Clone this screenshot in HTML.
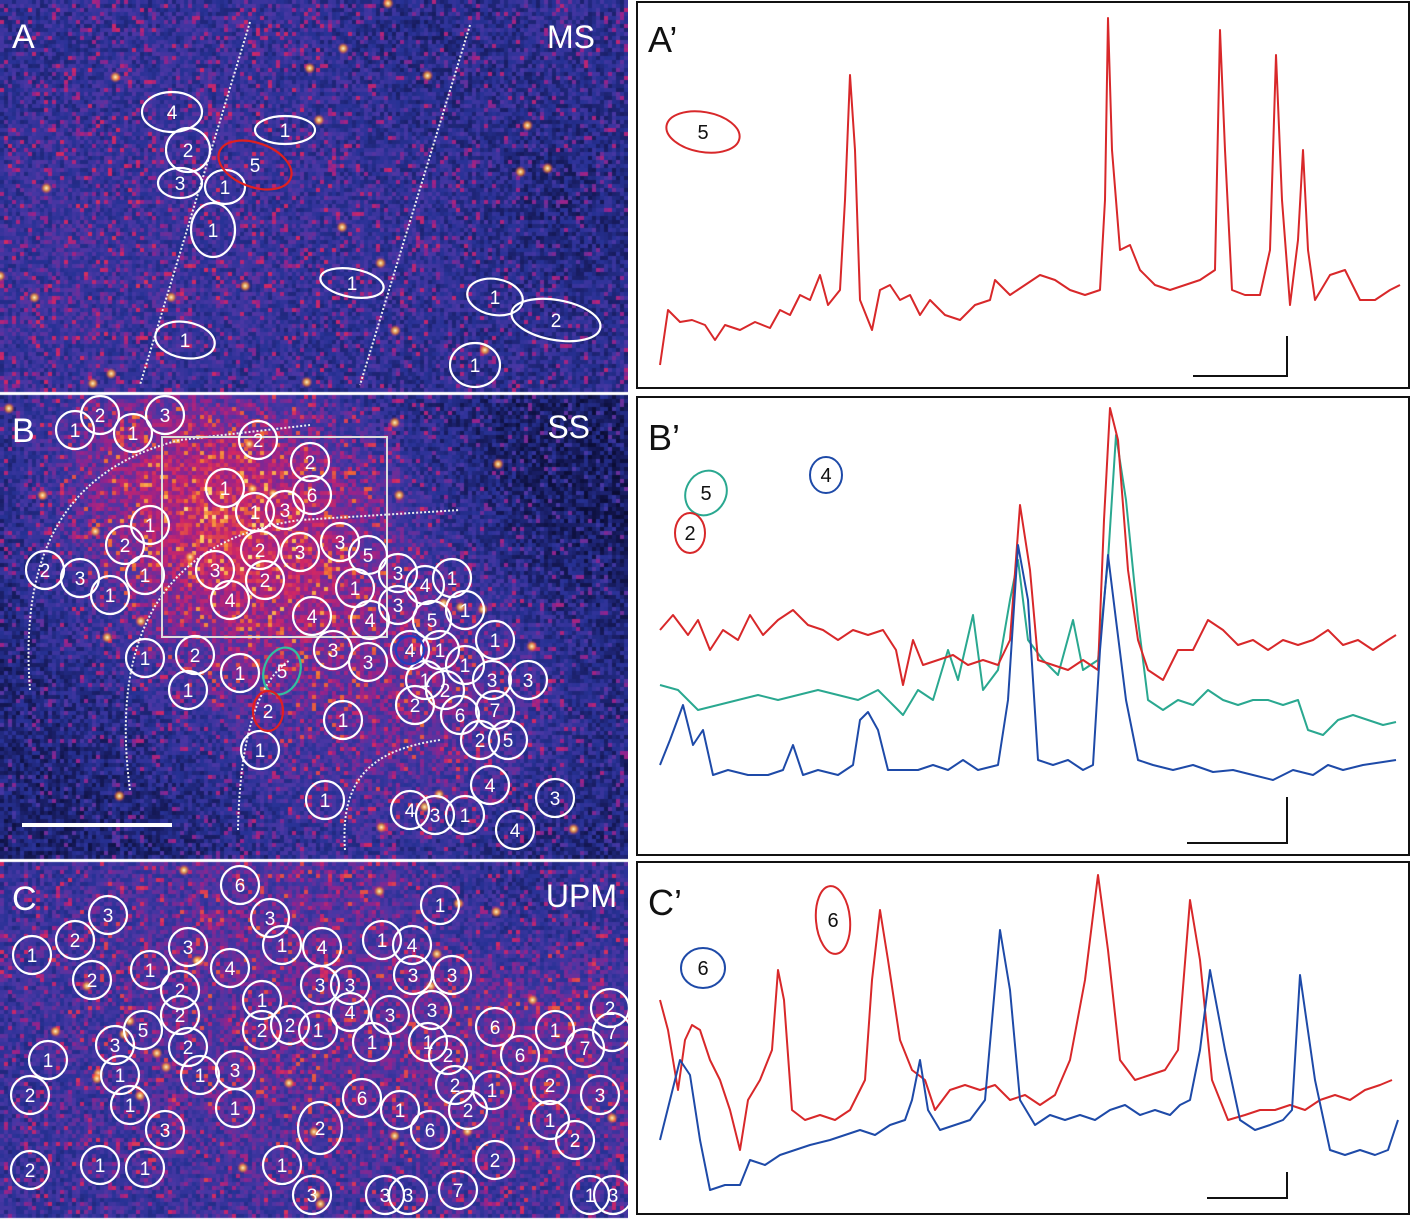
<!DOCTYPE html>
<html><head><meta charset="utf-8">
<style>
html,body{margin:0;padding:0;background:#fff;}
body{width:1416px;height:1221px;position:relative;overflow:hidden;font-family:"Liberation Sans",sans-serif;}
canvas{position:absolute;left:0;top:0;}
svg{position:absolute;left:0;top:0;}
</style></head>
<body>
<canvas id="tex" width="628" height="1221"></canvas>
<svg id="fig" width="1416" height="1221"></svg>
<script>
// ---- Trace data (time in frames, signal in arbitrary units) ----
const aTime=[0,8,20,32,45,55,65,80,95,110,120,130,140,150,160,168,180,185,190,195,200,212,220,230,240,250,260,270,285,300,315,330,335,350,365,380,395,410,425,440,445,448,452,460,470,480,495,510,525,540,555,560,565,572,585,600,610,616,622,630,638,643,648,655,670,685,700,715,730,740];
const aVal=[5,60,48,50,45,30,45,40,48,42,60,55,75,70,95,65,80,170,295,220,70,40,80,85,70,75,55,70,55,50,65,70,90,75,85,95,90,80,75,80,170,352,220,120,125,100,85,80,85,90,100,340,220,80,75,75,120,315,170,65,130,220,120,70,95,100,70,70,80,85];
const bTimeR=[0,13,28,38,50,63,78,90,103,118,133,148,163,178,193,208,223,236,243,253,263,278,293,308,323,338,350,360,370,378,393,408,423,438,444,450,458,468,478,488,503,518,533,548,563,578,593,608,623,638,653,668,683,698,713,728,736];
const bValR=[213,228,208,223,193,213,203,228,208,223,233,218,213,203,213,208,213,193,158,203,178,183,188,178,183,178,203,338,273,183,178,173,183,173,323,435,403,273,203,173,163,193,193,223,213,198,203,193,203,198,203,213,198,203,193,203,208];
const bTimeT=[0,18,38,58,78,98,118,138,158,178,198,218,233,243,258,273,288,298,313,323,338,350,358,368,383,398,413,423,438,448,456,466,478,488,503,518,533,548,563,578,593,608,623,638,648,663,678,693,708,723,736];
const bValT=[158,153,133,138,143,148,143,148,153,148,143,153,138,128,153,143,193,163,228,153,173,243,283,203,183,168,223,173,183,283,408,343,223,143,133,143,138,153,143,138,143,143,138,143,113,108,123,128,123,118,121];
const bTimeB=[0,10,23,33,43,53,68,88,108,123,133,143,158,178,193,200,208,218,228,243,258,273,288,303,318,338,348,358,368,378,393,408,423,433,440,448,456,466,478,493,513,533,553,573,593,613,633,653,668,683,703,723,736];
const bValB=[78,103,138,98,113,68,73,68,68,73,98,68,73,68,78,123,131,113,73,73,73,78,73,83,73,78,143,298,243,83,78,83,73,78,193,288,223,143,83,78,73,78,71,73,68,63,73,68,78,73,78,81,83];
const cTimeR=[0,8,18,25,32,40,50,60,70,80,88,100,112,118,124,132,145,160,175,190,205,212,220,228,240,252,265,275,290,305,320,335,350,365,380,395,410,425,438,448,460,475,490,505,518,530,540,552,568,585,600,615,630,645,660,675,690,705,720,732];
const cValR=[213,183,123,173,188,183,153,133,103,63,113,133,163,243,213,103,93,98,93,103,133,233,303,253,173,143,133,103,123,128,123,128,113,118,108,118,153,233,338,263,153,133,138,143,163,313,253,133,93,98,103,103,108,103,113,118,113,123,128,133];
const cTimeB=[0,10,20,30,40,50,65,80,90,105,120,135,150,170,185,200,215,230,245,252,260,268,280,295,310,325,340,350,360,375,390,405,420,435,450,465,480,495,510,520,530,540,550,565,580,595,610,623,632,640,655,670,685,700,715,728,738];
const cValB=[73,113,153,138,73,23,28,28,53,48,58,63,68,73,78,83,78,88,93,113,153,103,83,88,93,113,283,223,113,88,98,93,98,93,103,108,98,103,98,108,113,163,243,163,93,83,88,93,103,238,133,63,58,63,58,63,93];
const unitLen=[100];

const NS="http://www.w3.org/2000/svg";
const svg=document.getElementById('fig');
function mk(tag,attrs,parent){const e=document.createElementNS(NS,tag);for(const k in attrs)e.setAttribute(k,attrs[k]);(parent||svg).appendChild(e);return e;}

// ---- texture ----
const ctx=document.getElementById('tex').getContext('2d');
let seed=12345;function rnd(){seed=(seed*1103515245+12345)&0x7fffffff;return seed/0x7fffffff;}
const ramp=[[10,12,50],[25,30,100],[40,50,150],[75,55,165],[150,35,140],[210,40,100],[240,110,50],[255,200,90],[255,250,210]];
function col(v){v=Math.max(0,Math.min(0.999,v));const p=v*(ramp.length-1);const i=Math.floor(p),f=p-i;const a=ramp[i],b=ramp[i+1];return `rgb(${a[0]+(b[0]-a[0])*f|0},${a[1]+(b[1]-a[1])*f|0},${a[2]+(b[2]-a[2])*f|0})`;}
function g(x,y,cx,cy,s){return Math.exp(-((x-cx)**2+(y-cy)**2)/(2*s*s));}
const panels=[{y0:0,y1:390,f:(x,y)=>0.24+0.06*g(x,y,300,120,200)+0.06*g(x,y,60,300,120)-0.08*g(x,y,560,200,60)-0.06*g(x,y,420,40,80)},
{y0:395,y1:856,f:(x,y)=>0.15+0.42*g(x,y,250,540,120)+0.15*g(x,y,120,430,90)+0.2*g(x,y,460,700,100)+0.1*g(x,y,330,820,90)-0.05*g(x,y,560,500,100)},
{y0:862,y1:1215,f:(x,y)=>0.26+0.14*g(x,y,300,980,200)+0.1*g(x,y,560,1060,80)-0.08*g(x,y,500,890,60)}];
const S=4;
panels.forEach(p=>{for(let y=p.y0;y<p.y1;y+=S)for(let x=0;x<628;x+=S){let v=p.f(x,y)+(rnd()-0.5)*0.22;if(rnd()<0.12)v+=0.22;ctx.fillStyle=col(v);ctx.fillRect(x,y,S,S);}});
// bright spots
panels.forEach(p=>{for(let k=0;k<60;k++){const x=rnd()*628,y=p.y0+rnd()*(p.y1-p.y0);const v=p.f(x,y);if(rnd()<v*1.4){const gr=ctx.createRadialGradient(x,y,0,x,y,6);gr.addColorStop(0,'rgba(255,250,200,1)');gr.addColorStop(0.5,'rgba(250,150,50,0.8)');gr.addColorStop(1,'rgba(200,30,100,0)');ctx.fillStyle=gr;ctx.fillRect(x-6,y-6,12,12);}}});

// ---- left panel overlays ----
function cell(cx,cy,rx,ry,label,color,rot){const gg=mk('g',{});
mk('ellipse',{cx,cy,rx,ry,fill:'none',stroke:color||'#fff','stroke-width':2.2,transform:`rotate(${rot||0} ${cx} ${cy})`},gg);
const t=mk('text',{x:cx,y:cy+7,'text-anchor':'middle','font-size':19,fill:'#fff','font-family':'Liberation Sans, sans-serif'},gg);t.textContent=label;}
function dotted(d){mk('path',{d,fill:'none',stroke:'#eee','stroke-width':2,'stroke-dasharray':'2 2'});}
function label(x,y,txt,sz,fill,anchor){const t=mk('text',{x,y,'font-size':sz,fill,'text-anchor':anchor||'start','font-family':'Liberation Sans, sans-serif'});t.textContent=txt;return t;}

// Panel A
dotted('M250 22 L140 385');dotted('M470 25 L360 385');
[[172,112,30,20,'4'],[188,150,22,22,'2'],[180,183,22,15,'3'],[285,130,30,14,'1'],[225,187,20,17,'1'],[213,230,22,27,'1'],[352,283,32,14,'1',null,10],[495,297,28,18,'1',null,10],[556,320,45,20,'2',null,10],[475,365,25,22,'1'],[185,340,30,18,'1',null,10]].forEach(c=>cell(...c));
cell(255,165,38,22,'5','#e02020',20);
label(12,48,'A',34,'#fff');
label(595,48,'MS',32,'#fff','end');

// Panel B
dotted('M30 690 C20 560 60 470 180 440 L310 425');dotted('M130 790 C110 640 160 540 300 520 L460 510');dotted('M238 830 C240 730 260 680 290 660');dotted('M345 850 C340 780 370 750 440 740');
mk('rect',{x:162,y:437,width:225,height:200,fill:'none',stroke:'#ddd','stroke-width':2});
[[75,430,'1'],[100,415,'2'],[133,433,'1'],[165,415,'3'],[125,545,'2'],[150,525,'1'],[45,570,'2'],[80,578,'3'],[110,595,'1'],[145,575,'1'],[258,440,'2'],[310,462,'2'],[312,495,'6'],[225,488,'1'],[255,512,'1'],[285,510,'3'],[260,550,'2'],[300,552,'3'],[340,542,'3'],[368,555,'5'],[215,570,'3'],[265,580,'2'],[230,600,'4'],[312,616,'4'],[370,620,'4'],[355,588,'1'],[398,573,'3'],[425,585,'4'],[452,578,'1'],[398,605,'3'],[432,620,'5'],[465,610,'1'],[145,658,'1'],[195,655,'2'],[240,673,'1'],[188,690,'1'],[333,650,'3'],[368,662,'3'],[410,650,'4'],[440,650,'1'],[465,665,'1'],[495,640,'1'],[425,680,'1'],[445,690,'2'],[415,705,'2'],[460,715,'6'],[495,710,'7'],[492,680,'3'],[528,680,'3'],[480,740,'2'],[508,740,'5'],[343,720,'1'],[260,750,'1'],[490,785,'4'],[325,800,'1'],[410,810,'4'],[435,815,'3'],[465,815,'1'],[555,798,'3'],[515,830,'4']].forEach(c=>cell(c[0],c[1],19,19,c[2]));
cell(282,671,18,24,'5','#30c0a0',20);cell(268,711,15,20,'2','#e02020');cell(410,650,14,14,'','#2040c0');
mk('rect',{x:22,y:823,width:150,height:4,fill:'#fff'});
label(12,442,'B',34,'#fff');
label(590,438,'SS',32,'#fff','end');

// Panel C
[[108,915,'3'],[75,940,'2'],[240,885,'6'],[270,918,'3'],[188,947,'3'],[282,945,'1'],[322,947,'4'],[382,940,'1'],[412,945,'4'],[440,905,'1'],[452,975,'3'],[32,955,'1'],[92,980,'2'],[150,970,'1'],[180,990,'2'],[230,968,'4'],[320,985,'3'],[350,985,'3'],[413,975,'3'],[180,1015,'2'],[143,1030,'5'],[115,1045,'3'],[188,1047,'2'],[262,1000,'1'],[262,1030,'2'],[290,1025,'2'],[318,1030,'1'],[350,1012,'4'],[390,1015,'3'],[432,1010,'3'],[372,1042,'1'],[428,1042,'1'],[48,1060,'1'],[120,1075,'1'],[200,1075,'1'],[235,1070,'3'],[495,1027,'6'],[520,1055,'6'],[555,1030,'1'],[585,1048,'7'],[612,1032,'7'],[610,1008,'2'],[550,1085,'2'],[600,1095,'3'],[550,1120,'1'],[130,1105,'1'],[165,1130,'3'],[235,1108,'1'],[455,1085,'2'],[448,1055,'2'],[400,1110,'1'],[430,1130,'6'],[468,1110,'2'],[492,1090,'1'],[30,1095,'2'],[30,1170,'2'],[100,1165,'1'],[145,1168,'1'],[282,1165,'1'],[312,1195,'3'],[385,1195,'3'],[408,1195,'3'],[458,1190,'7'],[495,1160,'2'],[575,1140,'2'],[590,1195,'1'],[613,1195,'3'],[362,1098,'6']].forEach(c=>cell(c[0],c[1],19,19,c[2]));
cell(320,1128,22,26,'2','#fff');
label(12,910,'C',34,'#fff');
label(617,907,'UPM',32,'#fff','end');

// ---- trace panels ----
function box(x,y,w,h,name){const r=mk('rect',{x,y,width:w,height:h,fill:'#fff',stroke:'#111','stroke-width':2});}
box(637,2,772,386,'trace-panel-a');box(637,397,772,458,'trace-panel-b');box(637,862,772,352,'trace-panel-c');
function xs(t){return 660+t;}
function trace(times,vals,base,color,name){let d='';times.forEach((t,i)=>{d+=(i?'L':'M')+xs(t).toFixed(1)+' '+(base-vals[i]).toFixed(1);});const p=mk('path',{d,fill:'none',stroke:color,'stroke-width':2,'stroke-linejoin':'round'});}
trace(aTime,aVal,370,'#d8282a','trace-a-cell5');
trace(bTimeT,bValT,843,'#2aa890','trace-b-cell5');
trace(bTimeR,bValR,843,'#d8282a','trace-b-cell2');
trace(bTimeB,bValB,843,'#1e4aa8','trace-b-cell4');
trace(cTimeR,cValR,1213,'#d8282a','trace-c-red-cell6');
trace(cTimeB,cValB,1213,'#1e4aa8','trace-c-blue-cell6');
function sbar(x,y,w,h,name){const p=mk('path',{d:`M${x-w} ${y} L${x} ${y} L${x} ${y-h}`,fill:'none',stroke:'#111','stroke-width':2});}
sbar(1287,376,unitLen[0]*0.94,40,'scale-bar-a');sbar(1287,843,unitLen[0],46,'scale-bar-b');sbar(1287,1198,unitLen[0]*0.8,26,'scale-bar-c');
function blob(cx,cy,rx,ry,rot,color,lab,name){const gg=mk('g',{});mk('ellipse',{cx,cy,rx,ry,fill:'none',stroke:color,'stroke-width':2,transform:`rotate(${rot} ${cx} ${cy})`},gg);const t=mk('text',{x:cx,y:cy+7,'text-anchor':'middle','font-size':20,fill:'#111'},gg);t.textContent=lab;}
blob(703,132,37,20,10,'#d8282a','5','legend-a-cell5');
blob(706,493,20,23,30,'#2aa890','5','legend-b-cell5');blob(690,533,15,20,0,'#d8282a','2','legend-b-cell2');blob(826,475,16,18,0,'#1e4aa8','4','legend-b-cell4');
blob(833,920,17,34,-5,'#d8282a','6','legend-c-red-cell6');blob(703,968,22,20,0,'#1e4aa8','6','legend-c-blue-cell6');
label(648,52,'A\u2019',36,'#111');
label(648,450,'B\u2019',36,'#111');
label(648,915,'C\u2019',36,'#111');
</script>
</body></html>
